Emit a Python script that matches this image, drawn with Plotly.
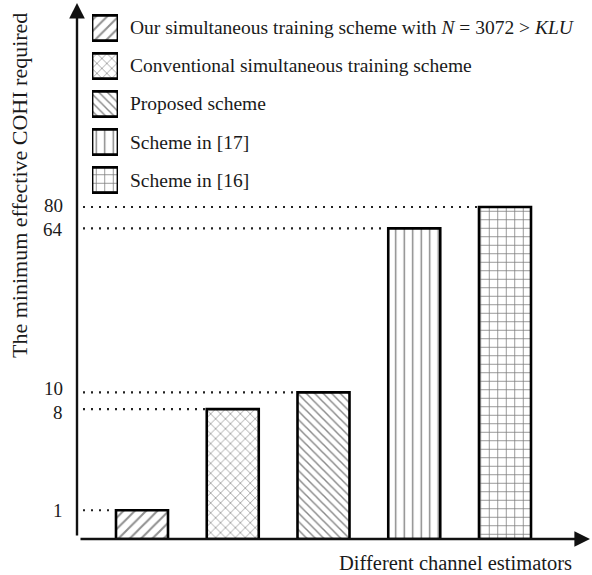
import numpy as np
import plotly.graph_objects as go

# ---- data -------------------------------------------------------------
schemes = [
    "Our simultaneous training scheme with <i>N</i> = 3072 > <i>KLU</i>",
    "Conventional simultaneous training scheme",
    "Proposed scheme",
    "Scheme in [17]",
    "Scheme in [16]",
]
coh_required = [1, 8, 10, 64, 80]
patterns = ["/", "x", "\\", "|", "+"]

# ---- geometry ---------------------------------------------------------
W, H = 592, 575
L, R, T, B = 77, 2, 3, 36
PW, PH = W - L - R, H - T - B

FONT = "Liberation Serif"
INK = "#1a1a1a"
OFFSET = 3          # y is drawn on a log axis of (value + OFFSET)
step_px = 90.75     # distance between bar centres
first_px = 65       # first bar centre, measured from the y axis
bar_w = 52 / step_px
x_range = [-first_px / step_px, (PW - first_px) / step_px]
xpos = list(range(len(coh_required)))

y_lo = np.log10(OFFSET)
top_frac = 332 / PH  # tallest bar reaches this share of the axis height
y_hi = y_lo + (np.log10(max(coh_required) + OFFSET) - y_lo) / top_frac

pat_fg = ["#222", "#333", "#111", "#000", "#000"]
pat_size = [8, 7, 6, 8.5, 8.5]
pat_sol = [0.26, 0.22, 0.24, 0.16, 0.18]

fig = go.Figure()

# main bars
fig.add_trace(go.Bar(
    x=xpos, y=coh_required, base=OFFSET, width=bar_w,
    marker=dict(
        color="white",
        line=dict(color="black", width=2.6),
        pattern=dict(shape=patterns, fgcolor=pat_fg, bgcolor="white",
                     size=pat_size, solidity=pat_sol, fillmode="overlay"),
    ),
    hovertext=schemes, showlegend=False,
))

# legend swatches drawn as small horizontal bars on their own axes
fig.add_trace(go.Bar(
    x=[1] * len(schemes), y=list(range(len(schemes))), orientation="h",
    width=0.66, xaxis="x2", yaxis="y2",
    marker=dict(
        color="white",
        line=dict(color="black", width=2.8),
        pattern=dict(shape=patterns, fgcolor=pat_fg, bgcolor="white",
                     size=pat_size, solidity=pat_sol, fillmode="overlay"),
    ),
    hoverinfo="skip", showlegend=False,
))


def px_x(p):
    return (p - L) / PW


def px_y(p):
    return (H - B - p) / PH


# legend labels
for i, name in enumerate(schemes):
    fig.add_annotation(
        x=px_x(128), xref="paper", y=i, yref="y2", text=name,
        showarrow=False, xanchor="left", yanchor="middle",
        font=dict(family=FONT, size=19.5, color=INK),
    )

# dotted guide lines from the y axis to each bar top
for xi, v in zip(xpos, coh_required):
    fig.add_shape(
        type="line", xref="x", yref="y",
        x0=x_range[0] + 6 / step_px, x1=xi - bar_w / 2,
        y0=v + OFFSET, y1=v + OFFSET,
        line=dict(color="#222", width=2.2, dash="2px,6px"), layer="below",
    )

# value labels on the y axis; nudge apart labels that would collide
tick_px = [PH * (np.log10(v + OFFSET) - y_lo) / (y_hi - y_lo) for v in coh_required]
placed = list(tick_px)
MIN_GAP = 24
for _ in range(20):
    for i in range(1, len(placed)):
        gap = placed[i] - placed[i - 1]
        if gap < MIN_GAP:
            d = (MIN_GAP - gap) / 2
            placed[i] += d
            placed[i - 1] -= d
for v, p0, p1 in zip(coh_required, tick_px, placed):
    fig.add_annotation(
        x=0, xref="paper", y=np.log10(v + OFFSET), yref="y", text=str(v),
        showarrow=False, xanchor="right", yanchor="middle", xshift=-12,
        yshift=p1 - p0, font=dict(family=FONT, size=19, color=INK),
    )

# axes with arrow heads
fig.add_annotation(x=0, y=1, xref="paper", yref="paper", ax=0, ay=PH - 2,
                   axref="pixel", ayref="pixel", text="", showarrow=True,
                   arrowhead=2, arrowsize=1.3, arrowwidth=2.4, arrowcolor="#111",
                   standoff=0)
fig.add_annotation(x=1, y=0, xref="paper", yref="paper", ax=-(PW - 2), ay=0,
                   axref="pixel", ayref="pixel", text="", showarrow=True,
                   arrowhead=2, arrowsize=1.3, arrowwidth=2.4, arrowcolor="#111",
                   standoff=0)

# axis titles
fig.add_annotation(x=px_x(20), y=px_y(186), xref="paper", yref="paper",
                   text="The minimum effective COHI required", textangle=-90,
                   showarrow=False, xanchor="center", yanchor="middle",
                   font=dict(family=FONT, size=22, color=INK))
fig.add_annotation(x=px_x(574), y=px_y(563), xref="paper", yref="paper",
                   text="Different channel estimators", showarrow=False,
                   xanchor="right", yanchor="middle",
                   font=dict(family=FONT, size=20.5, color=INK))

fig.update_layout(
    width=W, height=H,
    margin=dict(l=L, r=R, t=T, b=B, pad=0),
    plot_bgcolor="white", paper_bgcolor="white",
    showlegend=False,
    xaxis=dict(range=x_range, showticklabels=False, ticks="", showgrid=False,
               zeroline=False, showline=False, fixedrange=True),
    yaxis=dict(type="log", range=[y_lo, y_hi], showgrid=False, zeroline=False,
               showline=False, ticks="", showticklabels=False, fixedrange=True),
    xaxis2=dict(domain=[px_x(92), px_x(118)], range=[0, 1], anchor="y2",
                visible=False, fixedrange=True),
    yaxis2=dict(domain=[px_y(199), px_y(9)], range=[4.5, -0.5], anchor="x2",
                visible=False, fixedrange=True),
)

fig.write_html("out.html")
